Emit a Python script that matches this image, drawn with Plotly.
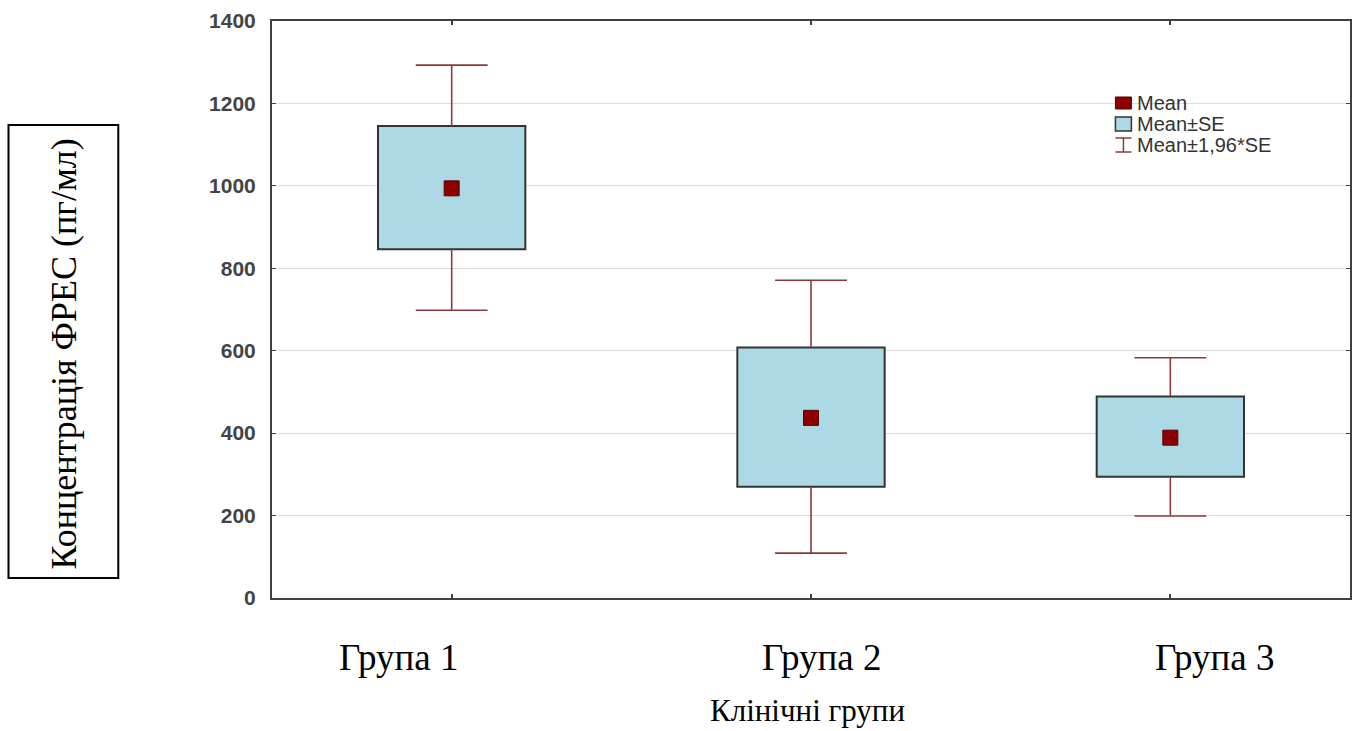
import plotly.graph_objects as go

# ---- data ----
groups = ["Група 1", "Група 2", "Група 3"]
means = [994, 437, 389]
se_low = [846, 270, 294]
se_high = [1145, 608, 489]
ci_low = [698, 109, 199]
ci_high = [1293, 771, 583]
y_ticks = [0, 200, 400, 600, 800, 1000, 1200, 1400]
legend_labels = ["Mean", "Mean±SE", "Mean±1,96*SE"]
x_title = "Клінічні групи"
y_title = "Концентрація ФРЕС (пг/мл)"

# ---- layout geometry (pixels) ----
W, H = 1357, 731
L, R, T, B = 272, 1352, 21, 598


def px2x(px):
    return (px - L) / (R - L)


def py2y(py):
    return (B - py) / (B - T)


xs = list(range(len(groups)))
box_w = 0.41
cap = 0.1

whisk_color = "#8B3A3A"
axis_color = "#404040"

fig = go.Figure()

# boxes (Mean ± SE)
fig.add_trace(go.Bar(
    x=xs, base=se_low, y=[h - l for h, l in zip(se_high, se_low)],
    width=box_w, marker=dict(color="#ADD8E6", line=dict(color="#333333", width=2)),
    showlegend=False, hoverinfo="skip"))

# whiskers (Mean ± 1.96*SE)
wx, wy = [], []
for i, x in enumerate(xs):
    wx += [x, x, None, x, x, None, x - cap, x + cap, None, x - cap, x + cap, None]
    wy += [se_high[i], ci_high[i], None, se_low[i], ci_low[i], None,
           ci_high[i], ci_high[i], None, ci_low[i], ci_low[i], None]
fig.add_trace(go.Scatter(x=wx, y=wy, mode="lines",
                         line=dict(color=whisk_color, width=1.6),
                         showlegend=False, hoverinfo="skip"))

# means
fig.add_trace(go.Scatter(x=xs, y=means, mode="markers",
                         marker=dict(symbol="square", size=15, color="#8B0000",
                                     line=dict(color="#5a0000", width=1)),
                         showlegend=False))

fig.update_layout(
    width=W, height=H,
    margin=dict(l=L, r=W - R, t=T, b=H - B),
    paper_bgcolor="white", plot_bgcolor="white",
    showlegend=False,
    xaxis=dict(range=[-0.5, len(groups) - 0.5], tickvals=xs, ticktext=["", "", ""],
               ticks="inside", ticklen=4, tickcolor=axis_color, tickwidth=2,
               showline=True, linecolor=axis_color, linewidth=2, mirror="ticks",
               showgrid=False, zeroline=False),
    yaxis=dict(range=[0, 1400], tickvals=y_ticks,
               ticks="inside", ticklen=4, tickcolor=axis_color, tickwidth=1,
               showline=True, linecolor=axis_color, linewidth=2, mirror="ticks",
               showgrid=True, gridcolor="#dcdcdc", gridwidth=1, zeroline=False,
               tickfont=dict(family="Liberation Sans", size=21, color="#444444", weight="bold"),
               ticklabelstandoff=10),
)

# x category labels (placed as in the original document)
label_px = [399, 823, 1217]
for g, p in zip(groups, label_px):
    fig.add_annotation(x=px2x(p), y=py2y(657), xref="paper", yref="paper",
                       text=g, showarrow=False, xanchor="center", yanchor="middle",
                       font=dict(family="Liberation Serif", size=37, color="black"))

# x title
fig.add_annotation(x=px2x(808), y=py2y(710), xref="paper", yref="paper",
                   text=x_title, showarrow=False, xanchor="center", yanchor="middle",
                   font=dict(family="Liberation Serif", size=31, color="black"))

# y title in a framed box
fig.add_shape(type="rect", xref="paper", yref="paper",
              x0=px2x(8), x1=px2x(118), y0=py2y(578), y1=py2y(125),
              line=dict(color="black", width=2), fillcolor="rgba(0,0,0,0)")
fig.add_annotation(x=px2x(64), y=py2y(354), xref="paper", yref="paper",
                   text=y_title, textangle=-90, showarrow=False,
                   xanchor="center", yanchor="middle",
                   font=dict(family="Liberation Serif", size=36, color="black"))

# legend (drawn manually)
lx = 1125
rows = [103, 124, 145]
fig.add_shape(type="rect", xref="paper", yref="paper",
              x0=px2x(lx - 8), x1=px2x(lx + 8), y0=py2y(rows[0] + 6), y1=py2y(rows[0] - 6),
              line=dict(color="#5a0000", width=1), fillcolor="#8B0000")
fig.add_shape(type="rect", xref="paper", yref="paper",
              x0=px2x(lx - 8), x1=px2x(lx + 8), y0=py2y(rows[1] + 7), y1=py2y(rows[1] - 7),
              line=dict(color="#333333", width=1.5), fillcolor="#ADD8E6")
fig.add_shape(type="line", xref="paper", yref="paper",
              x0=px2x(lx), x1=px2x(lx), y0=py2y(rows[2] + 7), y1=py2y(rows[2] - 7),
              line=dict(color=whisk_color, width=1.5))
for dy in (-7, 7):
    fig.add_shape(type="line", xref="paper", yref="paper",
                  x0=px2x(lx - 8), x1=px2x(lx + 8), y0=py2y(rows[2] + dy), y1=py2y(rows[2] + dy),
                  line=dict(color=whisk_color, width=1.5))
for lab, ry in zip(legend_labels, rows):
    fig.add_annotation(x=px2x(lx + 12), y=py2y(ry), xref="paper", yref="paper",
                       text=lab, showarrow=False, xanchor="left", yanchor="middle",
                       font=dict(family="Liberation Sans", size=20, color="#333333"))

fig.write_html("out.html")
